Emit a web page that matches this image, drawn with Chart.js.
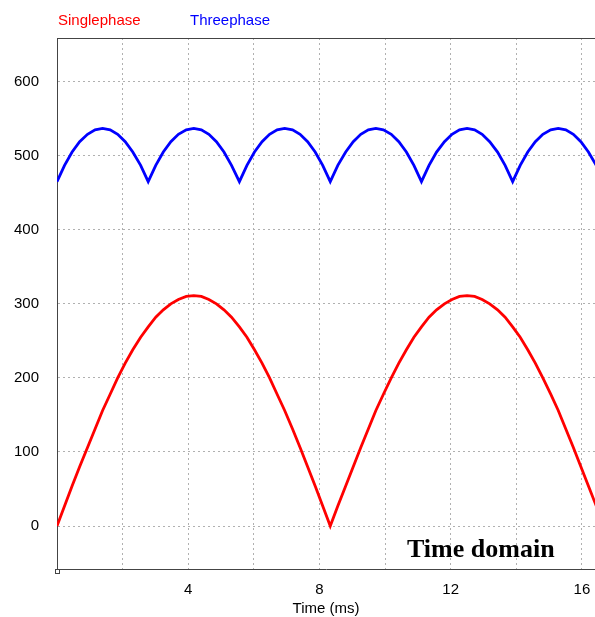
<!DOCTYPE html>
<html>
<head>
<meta charset="utf-8">
<script src="https://cdn.jsdelivr.net/npm/chart.js@4.4.1/dist/chart.umd.min.js"></script>
<style>
  html, body { margin: 0; padding: 0; background: #fff; overflow: hidden; }
  #wrap { position: relative; width: 595px; height: 617px; }
</style>
</head>
<body>
<div id="wrap"><canvas id="chart"></canvas></div>
<script>
// time samples (ms)
const timeMs = [0, 0.23, 0.46, 0.69, 0.93, 1.16, 1.39, 1.62, 1.85, 2.08,
  2.31, 2.55, 2.78, 3.01, 3.24, 3.47, 3.70, 3.94, 4.17, 4.40,
  4.63, 4.86, 5.09, 5.32, 5.56, 5.79, 6.02, 6.25, 6.48, 6.71,
  6.94, 7.18, 7.41, 7.64, 7.87, 8.10, 8.33, 8.56, 8.80, 9.03,
  9.26, 9.49, 9.72, 9.95, 10.19, 10.42, 10.65, 10.88, 11.11, 11.34,
  11.57, 11.81, 12.04, 12.27, 12.50, 12.73, 12.96, 13.19, 13.43, 13.66,
  13.89, 14.12, 14.35, 14.58, 14.81, 15.05, 15.28, 15.51, 15.74, 15.97,
  16.20, 16.44, 16.67];

const singlephase = [0, 27, 54, 80, 106, 131, 156, 178, 200, 220,
  238, 255, 269, 282, 292, 300, 306, 310, 311, 310,
  306, 300, 292, 282, 269, 255, 238, 220, 200, 178,
  156, 131, 106, 80, 54, 27, 0, 27, 54, 80,
  106, 131, 156, 178, 200, 220, 238, 255, 269, 282,
  292, 300, 306, 310, 311, 310, 306, 300, 292, 282,
  269, 255, 238, 220, 200, 178, 156, 131, 106, 80,
  54, 27, 0];

const threephase = [465, 487, 505, 519, 529, 535, 537, 535, 529, 519, 505, 487,
  465, 487, 505, 519, 529, 535, 537, 535, 529, 519, 505, 487,
  465, 487, 505, 519, 529, 535, 537, 535, 529, 519, 505, 487,
  465, 487, 505, 519, 529, 535, 537, 535, 529, 519, 505, 487,
  465, 487, 505, 519, 529, 535, 537, 535, 529, 519, 505, 487,
  465, 487, 505, 519, 529, 535, 537, 535, 529, 519, 505, 487,
  465];

const xTicks = [0, 2, 4, 6, 8, 10, 12, 14, 16];
const xLabelled = [4, 8, 12, 16];
const yTicks = [0, 100, 200, 300, 400, 500, 600];

const toPoints = (ys) => ys.map((y, i) => ({ x: timeMs[i], y: y }));

// legend text, frame top line and the "Time domain" note
const extras = {
  id: 'extras',
  afterDraw(chart) {
    const ctx = chart.ctx;
    const a = chart.chartArea;
    ctx.save();
    ctx.strokeStyle = '#444';
    ctx.lineWidth = 1;
    ctx.beginPath();
    ctx.moveTo(a.left, a.top + 0.5);
    ctx.lineTo(a.right, a.top + 0.5);
    ctx.stroke();
    ctx.strokeRect(a.left - 1.5, a.bottom + 0.5, 4, 4);

    ctx.font = '15px "Liberation Sans", Arial, sans-serif';
    ctx.textBaseline = 'middle';
    ctx.fillStyle = '#ff0000';
    ctx.fillText('Singlephase', a.left + 1, 21);
    ctx.fillStyle = '#0000ff';
    ctx.fillText('Threephase', a.left + 133, 21);

    ctx.font = 'bold 26px "Liberation Serif", "Times New Roman", serif';
    ctx.fillStyle = '#000';
    ctx.textBaseline = 'alphabetic';
    ctx.fillText('Time domain', 407, 557);
    ctx.restore();
  }
};

new Chart(document.getElementById('chart'), {
  type: 'line',
  data: {
    datasets: [
      { label: 'Singlephase', data: toPoints(singlephase), borderColor: '#ff0000', borderWidth: 2.8, pointRadius: 0, tension: 0 },
      { label: 'Threephase', data: toPoints(threephase), borderColor: '#0000ff', borderWidth: 2.8, pointRadius: 0, tension: 0 }
    ]
  },
  options: {
    responsive: true,
    maintainAspectRatio: false,
    animation: false,
    layout: { padding: { top: 38, right: 0, left: 0, bottom: 0 } },
    plugins: { legend: { display: false }, tooltip: { enabled: false } },
    scales: {
      x: {
        type: 'linear',
        min: 0,
        max: 16.4,
        afterBuildTicks: (s) => { s.ticks = xTicks.map(v => ({ value: v })); },
        afterFit: (s) => { s.height = 48; s.paddingLeft = 0; s.paddingRight = 0; },
        grid: { color: '#b0b0b0', drawTicks: false, lineWidth: 1 },
        border: { display: true, color: '#444', width: 1, dash: [2, 3] },
        ticks: {
          padding: 12,
          color: '#000',
          font: { family: '"Liberation Sans", Arial, sans-serif', size: 15 },
          maxRotation: 0,
          autoSkip: false,
          callback: (v) => xLabelled.includes(v) ? String(v) : ''
        },
        title: {
          display: true,
          text: 'Time (ms)',
          color: '#000',
          font: { family: '"Liberation Sans", Arial, sans-serif', size: 15 },
          padding: { top: 0, bottom: -1 }
        }
      },
      y: {
        min: -58,
        max: 659,
        afterBuildTicks: (s) => { s.ticks = yTicks.map(v => ({ value: v })); },
        afterFit: (s) => { s.width = 57; s.paddingTop = 0; s.paddingBottom = 0; },
        grid: { color: '#b0b0b0', drawTicks: false, lineWidth: 1 },
        border: { display: true, color: '#444', width: 1, dash: [2, 3] },
        ticks: {
          padding: 18,
          color: '#000',
          font: { family: '"Liberation Sans", Arial, sans-serif', size: 15 }
        }
      }
    }
  },
  plugins: [extras]
});
</script>
</body>
</html>
